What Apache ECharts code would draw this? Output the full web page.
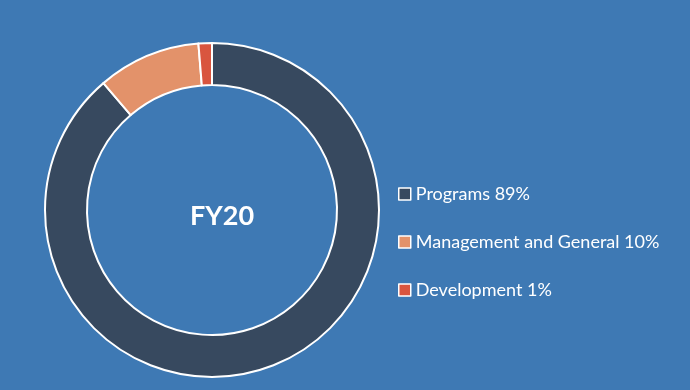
<!DOCTYPE html>
<html><head><meta charset="utf-8">
<script src="https://cdn.jsdelivr.net/npm/echarts@6/dist/echarts.min.js"></script>
<style>html,body{margin:0;padding:0;background:#3e79b4;}#c{width:690px;height:390px;}</style>
</head><body><div id="c"></div>
<script>
var categories = ['Programs', 'Management and General', 'Development'];
var values = [89, 10, 1.3];
var labels = ['89%', '10%', '1%'];
var colors = ['#37495f', '#e3926a', '#d9553f'];
var centerTitle = 'FY20';

var chart = echarts.init(document.getElementById('c'), null, {renderer: 'canvas'});
var data = categories.map(function (c, i) {
  return {name: c, value: values[i], itemStyle: {color: colors[i]}};
});
chart.setOption({
  backgroundColor: '#3e79b4',
  animation: false,
  title: {
    text: centerTitle, left: 217, top: 211, textAlign: 'center', textVerticalAlign: 'middle',
    textStyle: {color: '#ffffff', fontSize: 27, fontWeight: 'bold', fontFamily: 'Lato'}
  },
  legend: {
    data: categories, padding: 0,
    orient: 'vertical', left: 398, top: 185, itemGap: 30, itemWidth: 12, itemHeight: 12,
    icon: 'rect',
    itemStyle: {borderColor: '#ffffff', borderWidth: 1.5},
    textStyle: {color: '#ffffff', fontSize: 18, fontFamily: 'Lato'},
    formatter: function (name) { return name + ' ' + labels[categories.indexOf(name)]; }
  },
  series: [{
    type: 'pie', center: [212, 210], radius: [125, 167], startAngle: 90, clockwise: true,
    label: {show: false}, labelLine: {show: false},
    itemStyle: {borderColor: '#ffffff', borderWidth: 2},
    emphasis: {disabled: true},
    data: data
  }]
});
</script></body></html>
